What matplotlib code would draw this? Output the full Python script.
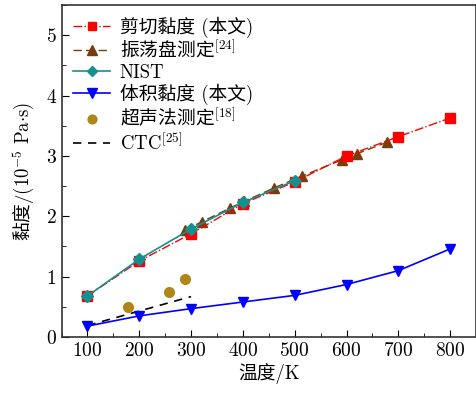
import matplotlib
matplotlib.use('Agg')
from matplotlib import pyplot as plt
from matplotlib.ticker import MultipleLocator

plt.rcParams['font.family'] = ['cmr10', 'Noto Sans CJK SC', 'DejaVu Sans']
plt.rcParams['mathtext.fontset'] = 'cm'
plt.rcParams['axes.unicode_minus'] = False
plt.rcParams['axes.formatter.use_mathtext'] = True

# shear viscosity (this work)
shear_T = [100, 200, 300, 400, 500, 600, 700, 800]
shear_v = [0.68, 1.26, 1.71, 2.21, 2.57, 3.00, 3.32, 3.63]

# oscillating disc [24]
disc_T = [288, 321, 376, 403, 460, 515, 592, 621, 679]
disc_v = [1.77, 1.91, 2.14, 2.25, 2.47, 2.67, 2.94, 3.04, 3.23]

# NIST
nist_T = [100, 200, 300, 400, 500]
nist_v = [0.68, 1.29, 1.79, 2.23, 2.59]

# bulk viscosity (this work)
bulk_T = [100, 200, 300, 400, 500, 600, 700, 800]
bulk_v = [0.18, 0.35, 0.47, 0.58, 0.69, 0.87, 1.10, 1.46]

# ultrasonic [18]
ultra_T = [179, 257, 288]
ultra_v = [0.50, 0.74, 0.96]

# CTC [25]
ctc_T = [100, 200, 300]
ctc_v = [0.19, 0.43, 0.67]

fig = plt.figure(figsize=(4.77, 3.96), dpi=100)
ax = fig.add_axes([0.129, 0.149, 0.869, 0.838])

ax.plot(shear_T, shear_v, '-.', color='#ff0000', marker='s', ms=7, lw=1,
        label='剪切黏度 (本文)', zorder=4)
ax.plot(disc_T, disc_v, '--', color='#7a3c0a', marker='^', ms=7.5, lw=1,
        dashes=(6, 3), label='振荡盘测定$^{[24]}$', zorder=3)
ax.plot(nist_T, nist_v, '-', color='#139090', marker='D', ms=6, lw=1.2,
        label='NIST', zorder=5)
ax.plot(bulk_T, bulk_v, '-', color='#0000ff', marker='v', ms=7.5, lw=1.2,
        label='体积黏度 (本文)', zorder=4)
ax.plot(ultra_T, ultra_v, 'o', color='#b08618', ms=7, ls='none',
        label='超声法测定$^{[18]}$', zorder=4)
ax.plot(ctc_T, ctc_v, '--', color='black', lw=1.2, dashes=(5, 4),
        label='CTC$^{[25]}$', zorder=3)

ax.set_xlim(50, 850)
ax.set_ylim(0, 5.5)
ax.set_xticks([100, 200, 300, 400, 500, 600, 700, 800])
ax.set_yticks([0, 1, 2, 3, 4, 5])
ax.xaxis.set_minor_locator(MultipleLocator(50))
ax.yaxis.set_minor_locator(MultipleLocator(0.5))
ax.tick_params(which='both', direction='in', top=False, right=False, labelsize=14)
ax.tick_params(which='major', length=5)
ax.tick_params(which='minor', length=3)
for s in ax.spines.values():
    s.set_linewidth(1.2)
    s.set_color('#333333')

ax.set_xlabel('温度/K', fontsize=13.5, labelpad=2)
# mathtext draws plain text with one font only, so keep Latin parts in math
ax.set_ylabel(r'黏度$/(10^{-5}\ \mathrm{Pa{\cdot}s})$', fontsize=13.5,
              family=['Noto Sans CJK SC'], labelpad=6)

leg = ax.legend(loc='upper left', frameon=False, fontsize=13.5, handlelength=2.0,
                borderaxespad=0.2, labelspacing=0.1, handletextpad=0.5,
                markerscale=0.9)
for t in leg.get_texts():
    if '$' in t.get_text() and 'CTC' not in t.get_text():
        t.set_fontfamily(['Noto Sans CJK SC'])

fig.savefig('out.png', dpi=100)
